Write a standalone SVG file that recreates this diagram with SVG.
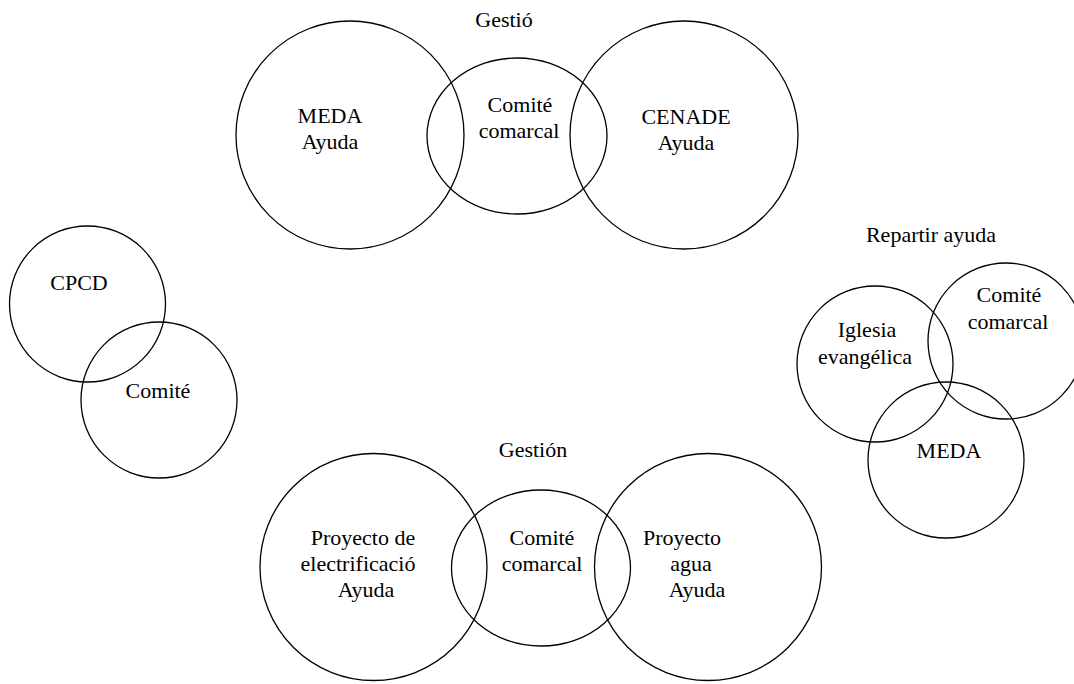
<svg xmlns="http://www.w3.org/2000/svg" width="1074" height="684" viewBox="0 0 1074 684">
  <style>
    .ring { fill: none; stroke: #000; stroke-width: 1.3; }
    .lbl { font-family: "Liberation Serif", "Times New Roman", serif; font-size: 22px; fill: #000; text-anchor: middle; }
  </style>
  <rect width="1074" height="684" fill="#fff"/>

  <!-- Management of aid: MEDA / district committee / CENADE -->
  <g id="gestio-top">
    <text class="lbl" x="504" y="27">Gestió</text>
    <g id="meda-ayuda">
      <circle class="ring" cx="350" cy="135" r="114"/>
      <text class="lbl" x="330" y="123">MEDA</text>
      <text class="lbl" x="330" y="149">Ayuda</text>
    </g>
    <g id="comite-comarcal-top">
      <ellipse class="ring" cx="517" cy="136" rx="90" ry="78"/>
      <text class="lbl" x="520" y="112">Comité</text>
      <text class="lbl" x="519" y="138">comarcal</text>
    </g>
    <g id="cenade-ayuda">
      <circle class="ring" cx="684" cy="135" r="114"/>
      <text class="lbl" x="686" y="124">CENADE</text>
      <text class="lbl" x="686" y="150">Ayuda</text>
    </g>
  </g>

  <!-- CPCD and committee -->
  <g id="cpcd">
    <circle class="ring" cx="87.5" cy="304" r="78"/>
    <text class="lbl" x="79" y="290">CPCD</text>
  </g>
  <g id="comite">
    <circle class="ring" cx="159" cy="400" r="78"/>
    <text class="lbl" x="158" y="398">Comité</text>
  </g>

  <!-- Aid distribution -->
  <g id="repartir">
    <text class="lbl" x="931" y="242">Repartir ayuda</text>
    <g id="iglesia">
      <circle class="ring" cx="875" cy="364" r="78"/>
      <text class="lbl" x="867" y="337">Iglesia</text>
      <text class="lbl" x="865" y="364">evangélica</text>
    </g>
    <g id="comite-comarcal-right">
      <circle class="ring" cx="1006" cy="341" r="78"/>
      <text class="lbl" x="1009" y="302">Comité</text>
      <text class="lbl" x="1008" y="329">comarcal</text>
    </g>
    <g id="meda">
      <circle class="ring" cx="946" cy="460" r="78"/>
      <text class="lbl" x="949" y="458">MEDA</text>
    </g>
  </g>

  <!-- Management of projects -->
  <g id="gestion-bottom">
    <text class="lbl" x="533" y="457">Gestión</text>
    <g id="electrificacion">
      <circle class="ring" cx="373.5" cy="567" r="113.5"/>
      <text class="lbl" x="363" y="545">Proyecto de</text>
      <text class="lbl" x="358" y="571">electrificació</text>
      <text class="lbl" x="366" y="597">Ayuda</text>
    </g>
    <g id="comite-comarcal-bottom">
      <ellipse class="ring" cx="541" cy="568" rx="89.5" ry="78"/>
      <text class="lbl" x="542" y="545">Comité</text>
      <text class="lbl" x="542" y="571">comarcal</text>
    </g>
    <g id="agua">
      <circle class="ring" cx="708" cy="567" r="113.5"/>
      <text class="lbl" x="682" y="545">Proyecto</text>
      <text class="lbl" x="691" y="571">agua</text>
      <text class="lbl" x="697" y="597">Ayuda</text>
    </g>
  </g>

  <g id="connectors"/>
</svg>
